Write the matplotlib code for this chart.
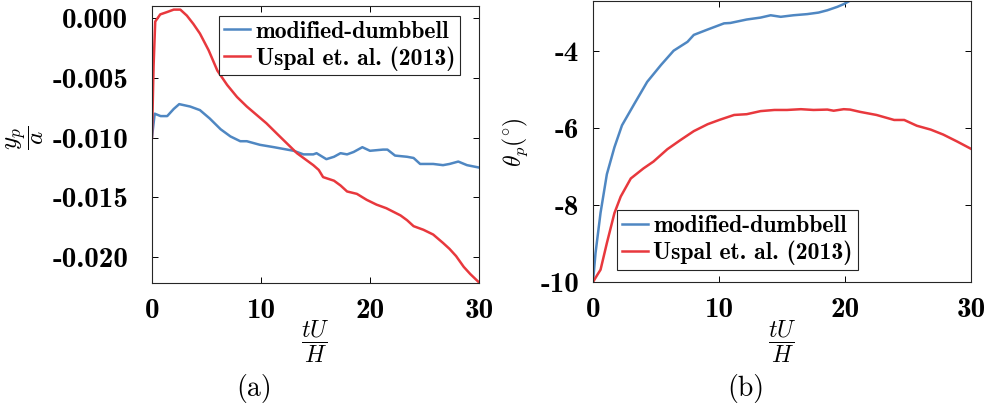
import numpy as np
import matplotlib
matplotlib.use('Agg')
import matplotlib.pyplot as plt

# panel (a): y_p / a
t_blue_a = [0, 0.25, 0.8, 1.4, 2.0, 2.5, 3.5, 4.4, 5.3, 6.3, 7.2, 8.1, 8.7, 9.9, 11.2,
            12.4, 13.0, 13.9, 14.8, 15.1, 16.0, 16.7, 17.3, 17.9, 18.5, 19.3, 20.0,
            21.2, 21.6, 22.3, 23.4, 24.0, 24.6, 25.8, 26.7, 27.3, 28.1, 28.9, 30.0]
y_blue_a = [-0.0100, -0.0080, -0.0082, -0.0082, -0.0076, -0.0072, -0.0074, -0.0077,
            -0.0084, -0.0093, -0.0099, -0.0103, -0.0103, -0.0106, -0.0108, -0.0110,
            -0.0111, -0.0114, -0.0114, -0.0113, -0.0118, -0.0116, -0.0113, -0.0114,
            -0.0112, -0.0108, -0.0111, -0.0110, -0.0110, -0.0115, -0.0116, -0.0117,
            -0.0122, -0.0122, -0.0123, -0.0122, -0.0120, -0.0123, -0.0125]

t_red_a = [0, 0.15, 0.3, 0.76, 1.4, 2.0, 2.6, 3.2, 3.8, 4.4, 5.2, 6.0, 6.9, 7.8, 8.7,
           9.6, 10.5, 11.5, 12.4, 13.3, 14.2, 14.8, 15.3, 15.7, 16.7, 17.3, 17.9, 18.8,
           19.7, 20.6, 21.5, 22.8, 23.4, 24.0, 24.9, 25.8, 26.7, 27.3, 27.9, 28.6, 29.2, 30.0]
y_red_a = [-0.0100, -0.0040, -0.0003, 0.0003, 0.0005, 0.0007, 0.0007, 0.0002, -0.0005,
           -0.0013, -0.0027, -0.0044, -0.0056, -0.0066, -0.0074, -0.0081, -0.0088,
           -0.0097, -0.0105, -0.0113, -0.0119, -0.0123, -0.0127, -0.0133, -0.0136,
           -0.0140, -0.0145, -0.0147, -0.0152, -0.0156, -0.0159, -0.0165, -0.0169,
           -0.0174, -0.0177, -0.0181, -0.0188, -0.0193, -0.0199, -0.0208, -0.0214, -0.0221]

# panel (b): theta_p in degrees
t_blue_b = [0, 0.2, 0.6, 1.1, 1.7, 2.3, 3.3, 4.3, 5.4, 6.4, 7.5, 8.0, 9.1, 10.4, 10.9,
            12.2, 13.3, 14.1, 14.9, 15.9, 17.0, 17.9, 18.6, 19.4, 19.9, 20.4, 21.0]
th_blue_b = [-10.0, -9.25, -8.2, -7.2, -6.5, -5.93, -5.36, -4.8, -4.36, -3.99, -3.76,
             -3.58, -3.44, -3.28, -3.27, -3.18, -3.13, -3.07, -3.11, -3.07, -3.04, -3.0,
             -2.94, -2.85, -2.78, -2.69, -2.6]

t_red_b = [0, 0.35, 0.6, 1.1, 1.7, 2.2, 3.0, 4.0, 4.8, 5.9, 6.95, 8.0, 9.1, 10.1, 11.2,
           12.2, 13.3, 14.4, 15.4, 16.5, 17.5, 18.6, 19.1, 19.9, 20.4, 21.2, 22.5, 23.9,
           24.7, 25.7, 26.8, 27.8, 28.9, 30.0]
th_red_b = [-10.0, -9.81, -9.68, -8.99, -8.21, -7.78, -7.31, -7.05, -6.87, -6.55, -6.31,
            -6.08, -5.90, -5.78, -5.66, -5.64, -5.56, -5.53, -5.53, -5.51, -5.53, -5.52,
            -5.55, -5.51, -5.52, -5.58, -5.66, -5.79, -5.79, -5.94, -6.04, -6.17, -6.35, -6.54]

labels = ['modified-dumbbell', 'Uspal et. al. (2013)']
blue = '#4f87c2'
red = '#e8383d'

plt.rcParams['mathtext.fontset'] = 'cm'
plt.rcParams['axes.unicode_minus'] = False

fig = plt.figure(figsize=(9.88, 4.12), dpi=100)
ax1 = fig.add_axes([0.1538, 0.3131, 0.331, 0.6723])
ax2 = fig.add_axes([0.6002, 0.3155, 0.3826, 0.682])

ax1.plot(t_blue_a, y_blue_a, color=blue, lw=1.8, label=labels[0])
ax1.plot(t_red_a, y_red_a, color=red, lw=1.8, label=labels[1])
ax1.set_xlim(0, 30)
ax1.set_ylim(-0.02215, 0.001)
ax1.set_xticks([0, 10, 20, 30])
ax1.set_yticks([0.0, -0.005, -0.010, -0.015, -0.020])
ax1.set_yticklabels(['0.000', '-0.005', '-0.010', '-0.015', '-0.020'])

ax2.plot(t_blue_b, th_blue_b, color=blue, lw=1.8, label=labels[0])
ax2.plot(t_red_b, th_red_b, color=red, lw=1.8, label=labels[1])
ax2.set_xlim(0, 30)
ax2.set_ylim(-10, -2.7)
ax2.set_xticks([0, 10, 20, 30])
ax2.set_yticks([-4, -6, -8, -10])
ax2.set_yticklabels(['-4', '-6', '-8', '-10'])

for ax in (ax1, ax2):
    ax.tick_params(direction='in', top=True, right=True, length=4, width=0.7)
    ax.tick_params(axis='x', pad=11)
    for lab in ax.get_xticklabels() + ax.get_yticklabels():
        lab.set_fontfamily('cmb10')
        lab.set_fontsize(21)
    for s in ax.spines.values():
        s.set_linewidth(0.8)
        s.set_color('#262626')
ax1.tick_params(axis='y', pad=17)
ax2.tick_params(axis='y', pad=10)

leg_kw = dict(prop=dict(family='cmb10', size=17), handlelength=1.1,
              handletextpad=0.25, borderpad=0.2, labelspacing=0.15,
              borderaxespad=0, fancybox=False, framealpha=1, edgecolor='#262626')
leg1 = ax1.legend(loc='upper left', bbox_to_anchor=(0.205, 0.964), **leg_kw)
leg2 = ax2.legend(loc='lower left', bbox_to_anchor=(0.063, 0.043), **leg_kw)
for leg in (leg1, leg2):
    leg.get_frame().set_linewidth(0.8)

fig.text(0.026, 0.665, r'$\dfrac{y_p}{a}$', rotation=90, fontsize=18, ha='center', va='center')
fig.text(0.319, 0.17, r'$\dfrac{tU}{H}$', fontsize=17, ha='center', va='center')
fig.text(0.257, 0.058, '(a)', fontsize=20, family='cmr10', ha='center', va='center')

fig.text(0.522, 0.655, r'$\theta_p(^{\circ})$', rotation=90, fontsize=17, ha='center', va='center')
fig.text(0.792, 0.17, r'$\dfrac{tU}{H}$', fontsize=17, ha='center', va='center')
fig.text(0.755, 0.058, '(b)', fontsize=20, family='cmr10', ha='center', va='center')

fig.savefig('out.png', dpi=100)
